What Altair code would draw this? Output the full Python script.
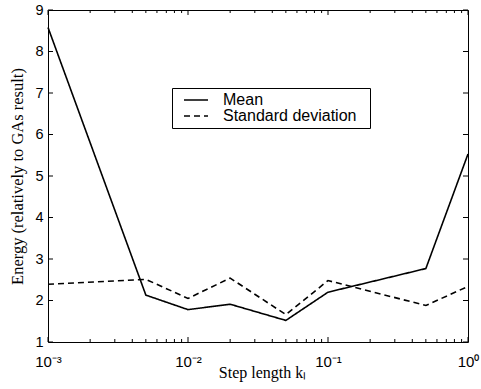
import altair as alt
import pandas as pd

# ---- data ----
step_length = [0.001, 0.005, 0.01, 0.02, 0.05, 0.1, 0.5, 1.0]
mean_energy = [8.58, 2.13, 1.78, 1.91, 1.52, 2.20, 2.77, 5.53]
std_energy = [2.39, 2.51, 2.05, 2.54, 1.66, 2.48, 1.88, 2.34]
series_names = ["Mean", "Standard deviation"]

x_major = [0.001, 0.01, 0.1, 1.0]
x_labels = ["10\u207b\u00b3", "10\u207b\u00b2", "10\u207b\u00b9", "10\u2070"]
x_minor = [m * d for d in [0.001, 0.01, 0.1] for m in range(2, 10)]
y_ticks = [1, 2, 3, 4, 5, 6, 7, 8, 9]

rows = []
for k, m, s in zip(step_length, mean_energy, std_energy):
    rows.append({"k": k, "value": m, "series": series_names[0]})
    rows.append({"k": k, "value": s, "series": series_names[1]})
df = pd.DataFrame(rows)

SANS = "Liberation Sans"
SERIF = "Liberation Serif"
W, H = 420, 332

xscale = alt.Scale(type="log", domain=[0.001, 1.0], nice=False)
yscale = alt.Scale(domain=[1, 9], nice=False, zero=False)

label_expr = "[" + ",".join("'" + s + "'" for s in x_labels) + "][round(log(datum.value)/LN10)+3]"

# main layer: lines, legend, labels and titles
main = alt.Chart(df).mark_line(color="black", strokeWidth=1.6).encode(
    x=alt.X("k:Q", scale=xscale, axis=alt.Axis(
        orient="bottom", values=x_major, labelExpr=label_expr, ticks=False, tickSize=0,
        domain=False, grid=False, labelFont=SANS, labelFontSize=15, labelColor="black",
        labelBaseline="alphabetic", labelPadding=24, labelFlush=False,
        title="Step length k\u2097", titleFont=SERIF, titleFontSize=16, titleFontWeight="normal",
        titleColor="black", titleX=214, titleY=35, titleBaseline="alphabetic", titleAlign="center")),
    y=alt.Y("value:Q", scale=yscale, axis=alt.Axis(
        orient="left", values=y_ticks, ticks=False, tickSize=0, domain=False, grid=False,
        labelFont=SANS, labelFontSize=14.5, labelColor="black", labelPadding=5,
        labelBaseline="middle", labelFlush=False,
        title="Energy (relatively to GAs result)", titleFont=SERIF, titleFontSize=16.5,
        titleFontWeight="normal", titleColor="black", titleX=-26, titleY=166,
        titleBaseline="alphabetic", titleAlign="center", titleAngle=270)),
    strokeDash=alt.StrokeDash("series:N", scale=alt.Scale(domain=series_names, range=[[1, 0], [6, 4]]),
        legend=alt.Legend(orient="none", legendX=124, legendY=78,
                          title="\u00a0", titleOrient="right", titlePadding=10, titleFontSize=1,
                          strokeColor="black", fillColor="white", padding=4,
                          labelFont=SANS, labelFontSize=16, labelColor="black",
                          symbolType="M-2,0H2", symbolSize=144, symbolStrokeWidth=1.5,
                          symbolStrokeColor="black", labelOffset=19, rowPadding=-2,
                          symbolOffset=12)),
    detail="series:N",
)

xmaj_df = pd.DataFrame({"t": x_major})
xmin_df = pd.DataFrame({"t": x_minor})
y_df = pd.DataFrame({"v": y_ticks})


def xticks(data, y_from, y_to):
    return alt.Chart(data).mark_rule(color="black", strokeWidth=1).encode(
        x=alt.X("t:Q", scale=xscale),
        y=alt.value(y_from), y2=alt.value(y_to))


def yticks(x_from, x_to):
    return alt.Chart(y_df).mark_rule(color="black", strokeWidth=1).encode(
        y=alt.Y("v:Q", scale=yscale),
        x=alt.value(x_from), x2=alt.value(x_to))


chart = alt.layer(
    main,
    xticks(xmaj_df, H, H - 5),
    xticks(xmaj_df, 0, 5),
    xticks(xmin_df, H, H - 3),
    xticks(xmin_df, 0, 3),
    yticks(0, 5),
    yticks(W, W - 5),
).properties(
    width=W, height=H,
    autosize="none",
    padding={"left": 48, "top": 10, "right": 13, "bottom": 47},
    background="white",
).configure_view(stroke="black", strokeWidth=1)

chart.save("out.html", embed_options={"renderer": "svg", "actions": False})
